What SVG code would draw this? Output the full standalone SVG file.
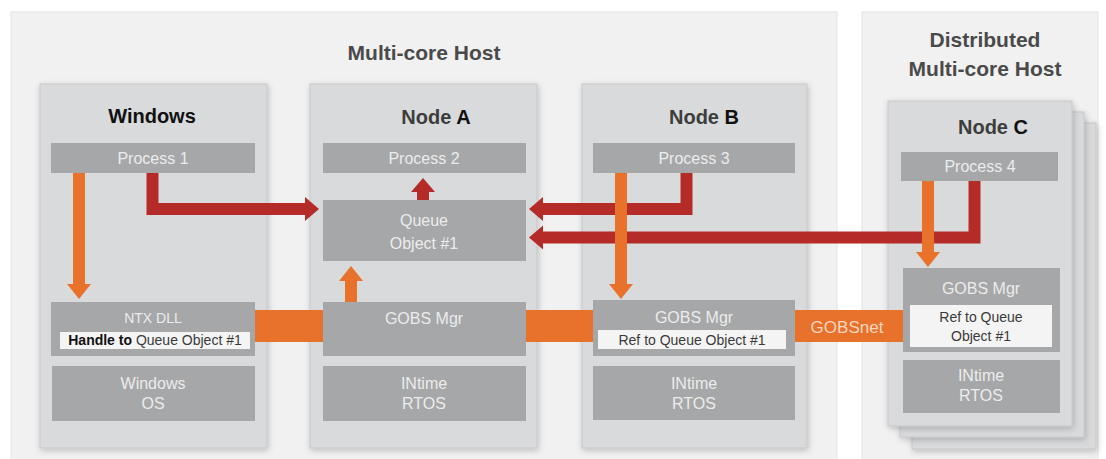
<svg xmlns="http://www.w3.org/2000/svg" width="1106" height="459" viewBox="0 0 1106 459">
<defs>
<filter id="sh" x="-10%" y="-10%" width="120%" height="120%">
<feDropShadow dx="1" dy="2" stdDeviation="3" flood-color="#000" flood-opacity="0.22"/>
</filter>
<marker id="redHead" markerUnits="userSpaceOnUse" markerWidth="16" markerHeight="26" viewBox="0 0 16 26" refX="0" refY="13" orient="auto">
<path d="M0,1 L14,13 L0,25 Z" fill="#b52b27"/>
</marker>
<marker id="orangeHead" markerUnits="userSpaceOnUse" markerWidth="16" markerHeight="26" viewBox="0 0 16 26" refX="0" refY="13" orient="auto">
<path d="M0,1 L15,13 L0,25 Z" fill="#e8722c"/>
</marker>
</defs>
<style>
.panel{fill:#f1f1f1;stroke:#e4e4e4;stroke-width:1}
.node{fill:#d9dadc;stroke:#c6c7c9;stroke-width:1;filter:url(#sh)}
.bar{fill:#a6a7a9}
.wbox{fill:#f4f4f4}
.ptitle{font-family:"Liberation Sans",Arial,sans-serif;font-weight:bold;font-size:21px;fill:#4a4a4a;text-anchor:middle}
.ntitle{font-family:"Liberation Sans",Arial,sans-serif;font-weight:bold;font-size:20px;fill:#3d3d3d;text-anchor:middle}
.ntitle tspan.k{fill:#111}
.bt{font-family:"Liberation Sans",Arial,sans-serif;font-size:16px;fill:#ececec;text-anchor:middle}
.st{font-family:"Liberation Sans",Arial,sans-serif;font-size:14px;fill:#3a3a3a;text-anchor:middle}
.red{fill:none;stroke:#b52b27;stroke-width:12;stroke-linejoin:miter}
.org{fill:none;stroke:#e8722c;stroke-width:12}
.band{fill:#e8722c}
</style>

<g id="panel-multicore">
<rect class="panel" x="11" y="12" width="826" height="448"/>
<text class="ptitle" x="424" y="60">Multi-core Host</text>
</g>
<g id="panel-distributed">
<rect class="panel" x="862" y="12" width="236" height="448"/>
<text class="ptitle" x="985" y="47">Distributed</text>
<text class="ptitle" x="985" y="76">Multi-core Host</text>
</g>

<g id="node-windows">
<rect class="node" x="40" y="84" width="227" height="364"/>
<text class="ntitle" x="152" y="123" fill="#111" style="fill:#111">Windows</text>
<rect class="bar" x="51" y="143" width="204" height="30"/>
<text class="bt" x="153" y="164">Process 1</text>
<rect class="bar" x="51" y="302" width="204" height="54"/>
<text class="bt" x="153" y="323" style="font-size:14px">NTX DLL</text>
<rect class="wbox" x="60" y="332" width="190" height="17"/>
<text class="st" x="155" y="345"><tspan font-weight="bold" fill="#111">Handle to</tspan> Queue Object #1</text>
<rect class="bar" x="52" y="366" width="203" height="55"/>
<text class="bt" x="153" y="389">Windows</text>
<text class="bt" x="153" y="409">OS</text>
</g>

<g id="node-a">
<rect class="node" x="310" y="84" width="227" height="364"/>
<text class="ntitle" x="436" y="124">Node <tspan class="k">A</tspan></text>
<rect class="bar" x="323" y="143" width="203" height="30"/>
<text class="bt" x="424" y="164">Process 2</text>
<rect class="bar" x="323" y="200" width="203" height="61"/>
<text class="bt" x="424" y="226">Queue</text>
<text class="bt" x="424" y="249">Object #1</text>
<rect class="bar" x="323" y="302" width="203" height="54"/>
<text class="bt" x="424" y="324">GOBS Mgr</text>
<rect class="bar" x="323" y="366" width="203" height="55"/>
<text class="bt" x="424" y="389">INtime</text>
<text class="bt" x="424" y="409">RTOS</text>
</g>

<g id="node-b">
<rect class="node" x="582" y="84" width="225" height="364"/>
<text class="ntitle" x="704" y="124">Node <tspan class="k">B</tspan></text>
<rect class="bar" x="593" y="143" width="202" height="30"/>
<text class="bt" x="694" y="164">Process 3</text>
<rect class="bar" x="593" y="300" width="202" height="56"/>
<text class="bt" x="694" y="323">GOBS Mgr</text>
<rect class="wbox" x="598" y="330" width="188" height="19"/>
<text class="st" x="692" y="345">Ref to Queue Object #1</text>
<rect class="bar" x="593" y="366" width="202" height="54"/>
<text class="bt" x="694" y="389">INtime</text>
<text class="bt" x="694" y="409">RTOS</text>
</g>

<g id="node-c">
<rect class="node" x="912" y="123" width="184" height="326"/>
<rect class="node" x="900" y="112" width="184" height="325"/>
<rect class="node" x="888" y="101" width="184" height="325"/>
<text class="ntitle" x="993" y="134">Node <tspan class="k">C</tspan></text>
<rect class="bar" x="901" y="152" width="157" height="29"/>
<text class="bt" x="980" y="172">Process 4</text>
<rect class="bar" x="903" y="268" width="157" height="84"/>
<text class="bt" x="981" y="294">GOBS Mgr</text>
<rect class="wbox" x="910" y="305" width="142" height="42"/>
<text class="st" x="981" y="322">Ref to Queue</text>
<text class="st" x="981" y="341">Object #1</text>
<rect class="bar" x="903" y="360" width="157" height="53"/>
<text class="bt" x="981" y="381">INtime</text>
<text class="bt" x="981" y="401">RTOS</text>
</g>

<g id="connectors">
<path class="red" d="M152.5,173 V209 H305" marker-end="url(#redHead)"/>
<path class="red" d="M686.5,173 V209 H543" marker-end="url(#redHead)"/>
<path class="red" d="M974.5,181 V237.5 H543" marker-end="url(#redHead)"/>
<path class="red" d="M423,200 V192" marker-end="url(#redHead)"/>
<path class="org" d="M79,173 V284" marker-end="url(#orangeHead)"/>
<path class="org" d="M621,173 V284" marker-end="url(#orangeHead)"/>
<path class="org" d="M928,181 V252" marker-end="url(#orangeHead)"/>
<path class="org" d="M351,302 V281" marker-end="url(#orangeHead)"/>
<rect class="band" x="255" y="310" width="68" height="32"/>
<rect class="band" x="526" y="310" width="67" height="32"/>
<rect class="band" x="795" y="310" width="108" height="32"/>
<text x="847" y="333" style="font-family:'Liberation Sans',Arial,sans-serif;font-size:17px;fill:#f9d6bf;text-anchor:middle">GOBSnet</text>
</g>
</svg>
